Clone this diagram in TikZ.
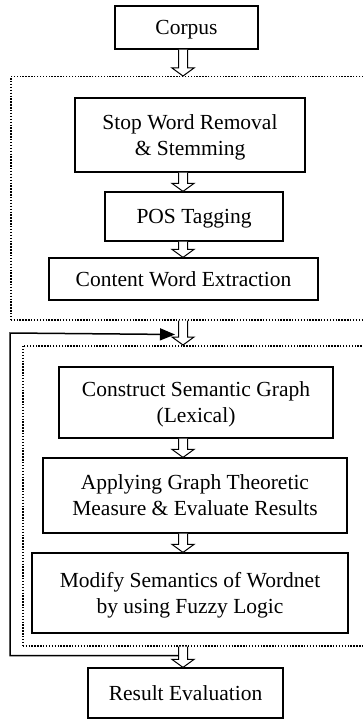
\documentclass[tikz,border=0pt]{standalone}
\usepackage{fontspec}
\setmainfont{Liberation Serif}
\usetikzlibrary{arrows.meta, calc}
\tikzset{
    stepbox/.style={draw, line width=1.2pt, align=center, inner sep=0pt, text depth=0pt,
        font=\fontsize{21.5}{26}\selectfont},
    frame/.style={draw, line width=1.5pt, dash pattern=on 1.4pt off 1.5pt,
        inner sep=0pt, anchor=north west},
    feedback/.style={line width=1.5pt, -{Triangle[length=15pt, width=12pt]}},
}
% hollow block arrow on the spine, shaft from #1 down to the tip at #2
\newcommand{\blockarrow}[2]{%
    \draw[line width=1pt, fill=white] let \p1=(#1), \p2=(#2) in
        (\x1-4.5pt,\y1) -- (\x1-4.5pt,\y2+8pt) -- (\x1-11pt,\y2+8pt) -- (\x1,\y2)
        -- (\x1+11pt,\y2+8pt) -- (\x1+4.5pt,\y2+8pt) -- (\x1+4.5pt,\y1);
}

\begin{document}
\begin{tikzpicture}[x=1pt, y=-1pt]
    \useasboundingbox (0,0) rectangle (363,719);
    \clip (0,0) rectangle (363,719);

    \coordinate (spine) at (183,0);

    \node[stepbox, minimum width=143pt, minimum height=43pt] (corpus) at (186.5,27.5) {Corpus};

    % preprocessing stage
    \node[frame, minimum width=365pt, minimum height=243pt] (prep) at (10,76) {};
    \node[stepbox, minimum width=230pt, minimum height=74pt] (stop) at (190,135) {Stop Word Removal\\ \& Stemming};
    \node[stepbox, minimum width=178pt, minimum height=49pt] (pos) at (194,216.5) {POS Tagging};
    \node[stepbox, minimum width=269pt, minimum height=42pt] (content) at (183.5,279) {Content Word Extraction};

    % graph stage
    \node[frame, minimum width=353pt, minimum height=300pt] (graph) at (22,345) {};
    \node[stepbox, minimum width=274pt, minimum height=71pt] (construct) at (196,402.5) {Construct Semantic Graph\\(Lexical)};
    \node[stepbox, minimum width=304pt, minimum height=75pt] (apply) at (195,495.5) {Applying Graph Theoretic\\Measure \& Evaluate Results};
    \node[stepbox, minimum width=316pt, minimum height=80pt] (modify) at (190,593) {Modify Semantics of Wordnet\\by using Fuzzy Logic};

    \node[stepbox, minimum width=195pt, minimum height=50pt] (result) at (185.5,693) {Result Evaluation};

    % loop back into the graph stage
    \coordinate (back) at (10,333);
    \draw[feedback] ($(graph.south -| spine)+(0,9)$) -| (back) -- ($(prep.south -| spine)+(-8,14)$);

    \blockarrow{corpus.south -| spine}{prep.north -| spine}
    \blockarrow{stop.south -| spine}{pos.north -| spine}
    \blockarrow{pos.south -| spine}{content.north -| spine}
    \blockarrow{prep.south -| spine}{graph.north -| spine}
    \blockarrow{construct.south -| spine}{apply.north -| spine}
    \blockarrow{apply.south -| spine}{modify.north -| spine}
    \blockarrow{graph.south -| spine}{result.north -| spine}
\end{tikzpicture}
\end{document}
